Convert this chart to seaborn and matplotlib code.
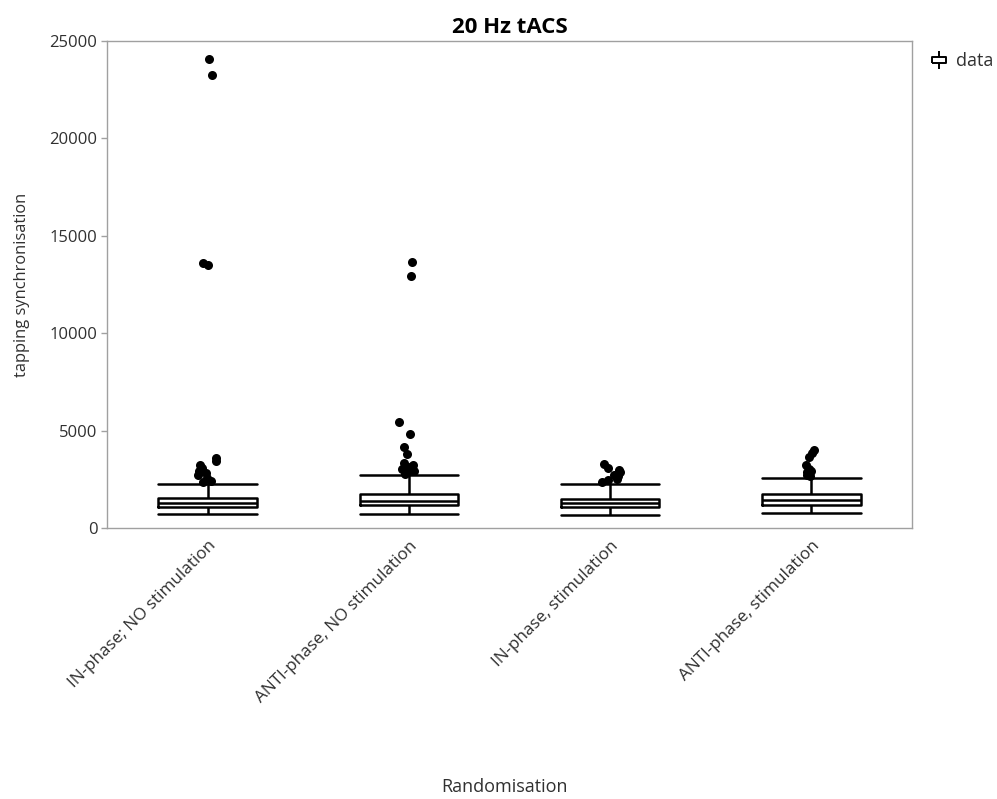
import numpy as np
import pandas as pd
import matplotlib
matplotlib.use("Agg")
import matplotlib.pyplot as plt
import seaborn as sns
from matplotlib.path import Path
from matplotlib.lines import Line2D

# ---- data ----
categories = ["IN-phase; NO stimulation", "ANTI-phase, NO stimulation",
              "IN-phase, stimulation", "ANTI-phase, stimulation"]
# five-number summaries: lower whisker, Q1, median, Q3, upper whisker
whisker_low = [700, 700, 690, 770]
q1 = [1095, 1180, 1095, 1180]
median = [1265, 1385, 1265, 1435]
q3 = [1525, 1745, 1505, 1745]
whisker_high = [2260, 2735, 2240, 2565]
# outliers per group
outliers_1 = [24050, 23250, 13600, 13500, 3600, 3450, 3250, 3100, 2900, 2800, 2700, 2550, 2400, 2350]
outliers_2 = [13650, 12950, 5430, 4800, 4170, 3780, 3350, 3250, 3150, 3050, 2980, 2900, 2760]
outliers_3 = [3270, 3060, 2980, 2850, 2720, 2650, 2500, 2450, 2380]
outliers_4 = [4000, 3870, 3660, 3230, 3050, 2950, 2850, 2720, 2650]

title = "20 Hz tACS"
ylabel = "tapping synchronisation"
xlabel = "Randomisation"
yticks = [0, 5000, 10000, 15000, 20000, 25000]

# ---- tables ----
box_rows = []
for c, a, b, m, d, e in zip(categories, whisker_low, q1, median, q3, whisker_high):
    for v in (a, b, m, d, e):
        box_rows.append({"group": c, "value": v})
box_df = pd.DataFrame(box_rows)

out_rows = []
for c, vals in zip(categories, [outliers_1, outliers_2, outliers_3, outliers_4]):
    for v in vals:
        out_rows.append({"group": c, "value": v})
out_df = pd.DataFrame(out_rows)

# ---- style ----
sns.set_theme(style="white")
plt.rcParams["font.family"] = ["Open Sans", "DejaVu Sans"]

fig = plt.figure(figsize=(9.97, 7.99), dpi=100)
ax = fig.add_axes([0.1073, 0.3392, 0.8074, 0.6095])

sns.boxplot(data=box_df, x="group", y="value", order=categories, ax=ax,
            whis=np.inf, showfliers=False, width=0.49, fill=False,
            color="black", linecolor="black", linewidth=1.8,
            capwidths=0.49)

np.random.seed(3)
sns.stripplot(data=out_df, x="group", y="value", order=categories, ax=ax,
              color="black", size=6.5, jitter=0.05, linewidth=0)

ax.set_xlim(-0.5, 3.5)
ax.set_ylim(0, 25000)
ax.set_yticks(yticks)
ax.set_yticklabels([str(t) for t in yticks])
ax.set_xticks(range(len(categories)))
ax.set_xticklabels(categories, rotation=45, ha="right", rotation_mode="anchor")

for s in ax.spines.values():
    s.set_color("#a0a0a0")
    s.set_linewidth(1.0)
    s.set_visible(True)

ax.tick_params(axis="y", which="both", direction="out", length=4, width=1,
               color="#a0a0a0", labelcolor="#303030", labelsize=12, pad=3, left=True)
ax.tick_params(axis="x", which="both", length=0, labelcolor="#303030",
               labelsize=12.3, pad=7, bottom=False)

ax.set_title(title, fontsize=16, fontweight="bold", color="black", pad=6)
ax.set_ylabel(ylabel, fontsize=11.8, color="#303030", labelpad=14)
ax.set_xlabel("")
fig.text(0.5065, 0.004, xlabel, ha="center", va="bottom", fontsize=13, color="#303030")

# legend with a box-plot glyph
verts = [(0, -1.0), (0, -0.3),
         (-0.8, -0.3), (0.8, -0.3), (0.8, 0.3), (-0.8, 0.3), (-0.8, -0.3),
         (0, 0.3), (0, 1.0)]
codes = [Path.MOVETO, Path.LINETO,
         Path.MOVETO, Path.LINETO, Path.LINETO, Path.LINETO, Path.LINETO,
         Path.MOVETO, Path.LINETO]
glyph = Path(verts, codes)
handle = Line2D([], [], marker=glyph, linestyle="none", markersize=13,
                markerfacecolor="none", markeredgecolor="black", markeredgewidth=1.4)
fig.legend([handle], ["data"], loc="upper left", bbox_to_anchor=(0.922, 0.948),
           frameon=False, fontsize=13, handletextpad=0.45, handlelength=1.0,
           labelcolor="#303030", borderaxespad=0.2)

fig.savefig("out.png", dpi=100)
